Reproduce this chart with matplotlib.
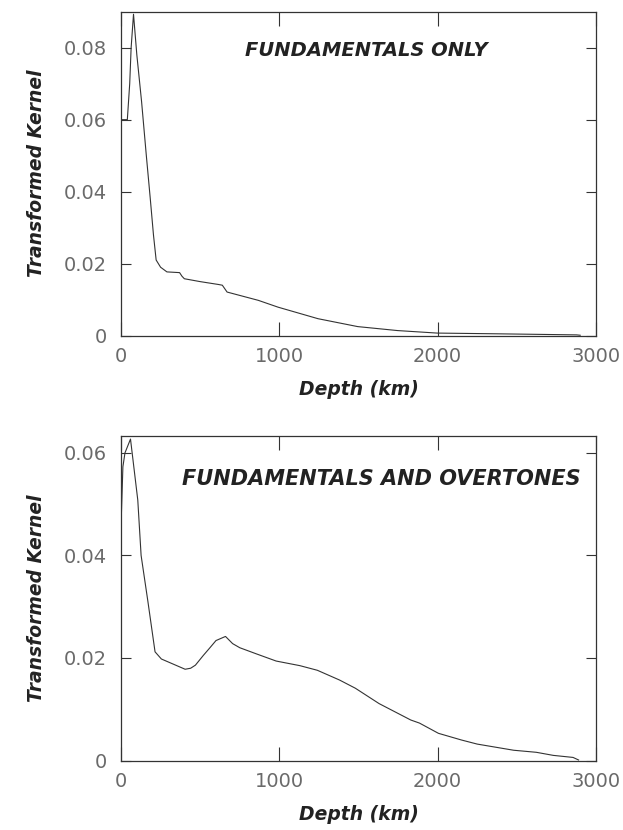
import matplotlib
matplotlib.use('Agg')
import matplotlib.pyplot as plt
import numpy as np

# depth (km) and transformed kernel
depth_fund = [0, 40, 55, 64, 79, 100, 130, 160, 185, 205, 222, 250, 290, 370,
              385, 400, 500, 616, 640, 670, 867, 992, 1244, 1495, 1746, 1997,
              2374, 2877, 2900]
kern_fund = [0.0600, 0.0600, 0.0700, 0.0800, 0.0893, 0.0780, 0.0650, 0.0500,
             0.0380, 0.0280, 0.0210, 0.0190, 0.0177, 0.0175, 0.0165, 0.0158,
             0.0150, 0.0142, 0.0140, 0.0121, 0.0098, 0.0079, 0.0047, 0.0025,
             0.0014, 0.0007, 0.0005, 0.0002, 0.0001]

depth_over = [0, 12, 25, 60, 106, 127, 170, 215, 255, 300, 405, 440, 470, 520,
              559, 600, 660, 705, 750, 855, 980, 1130, 1240, 1380, 1480, 1630,
              1830, 1885, 2005, 2150, 2250, 2480, 2623, 2730, 2855, 2890]
kern_over = [0.0456, 0.0573, 0.0600, 0.0627, 0.0508, 0.0400, 0.0310, 0.0212,
             0.0198, 0.0192, 0.0178, 0.0180, 0.0186, 0.0205, 0.0219, 0.0234,
             0.0242, 0.0228, 0.0220, 0.0208, 0.0194, 0.0185, 0.0176, 0.0157,
             0.0141, 0.0111, 0.0079, 0.0073, 0.0053, 0.0040, 0.0032, 0.0020,
             0.0016, 0.0010, 0.0006, 0.0001]

panels = [
    dict(x=depth_fund, y=kern_fund, ymax=0.09,
         yticks=[0, 0.02, 0.04, 0.06, 0.08],
         yticklabels=['0', '0.02', '0.04', '0.06', '0.08'],
         title='FUNDAMENTALS ONLY', tpos=(1550, 0.0791), tsize=14),
    dict(x=depth_over, y=kern_over, ymax=0.0633,
         yticks=[0, 0.02, 0.04, 0.06],
         yticklabels=['0', '0.02', '0.04', '0.06'],
         title='FUNDAMENTALS AND OVERTONES', tpos=(1645, 0.0549), tsize=15),
]
xticks = [0, 1000, 2000, 3000]
xticklabels = ['0', '1000', '2000', '3000']

W, H = 623, 830
fig = plt.figure(figsize=(W / 100, H / 100), dpi=100)

# axes boxes in pixels: left, top, right, bottom
boxes = [(121, 11.7, 596, 335.6), (121, 436, 596, 760.5)]

lab_font = dict(family='DejaVu Sans', weight='bold', style='oblique',
                color='#222222')
tick_col = '#6a6a6a'

for p, (l, t, r, b) in zip(panels, boxes):
    ax = fig.add_axes([l / W, 1 - b / H, (r - l) / W, (b - t) / H])
    ax.plot(p['x'], p['y'], color='#333333', lw=0.8)
    ax.set_xlim(0, 3000)
    ax.set_ylim(0, p['ymax'])

    ax.set_xticks(xticks)
    ax.set_xticklabels(xticklabels)
    ax.set_yticks(p['yticks'])
    ax.set_yticklabels(p['yticklabels'])
    ax.tick_params(axis='both', direction='in', top=True, right=True,
                   width=0.8, color='#333333', labelcolor=tick_col,
                   labelsize=14)
    ax.tick_params(axis='x', length=10, pad=8)
    ax.tick_params(axis='y', length=7, pad=10)
    for s in ax.spines.values():
        s.set_linewidth(0.9)
        s.set_color('#333333')

    ax.set_xlabel('Depth (km)', labelpad=10, size=13.5, **lab_font)
    ax.set_ylabel('Transformed Kernel', labelpad=13, size=13.5, **lab_font)
    ax.text(p['tpos'][0], p['tpos'][1], p['title'], ha='center', va='center',
            size=p['tsize'], **lab_font)

plt.savefig('out.png', dpi=100)
